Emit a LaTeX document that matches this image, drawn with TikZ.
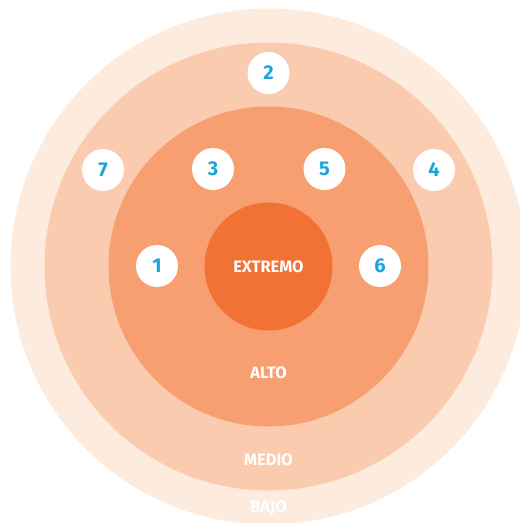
\documentclass[tikz,border=0pt]{standalone}
\usepackage{fontspec}
\setmainfont{Fira Sans}
\definecolor{bajo}{HTML}{FDEBDD}
\definecolor{medio}{HTML}{FBCBAF}
\definecolor{alto}{HTML}{F79F70}
\definecolor{extremo}{HTML}{F27135}
\definecolor{numc}{HTML}{1BA3DC}
\begin{document}
\begin{tikzpicture}[x=1pt,y=-1pt,
  ring/.style={circle,inner sep=0pt,draw=none},
  lbl/.style={text=white,font=\fontsize{16.5}{16.5}\selectfont\bfseries},
  num/.style={circle,fill=white,minimum size=42pt,inner sep=0pt,text=numc,font=\fontsize{20}{20}\selectfont\bfseries}]
\useasboundingbox (0,0) rectangle (520,523);
\clip (0,0) rectangle (520,523);
\node[ring,fill=bajo,minimum size=516pt] (bajo) at (268.5,266.5) {};
\node[ring,fill=medio,minimum size=448pt] (medio) at (268.5,266.5) {};
\node[ring,fill=alto,minimum size=320pt] (alto) at (268.5,266.5) {};
\node[ring,fill=extremo,minimum size=128pt] (extremo) at (268.5,266.5) {};
\node[lbl] (textremo) at (268.5,267) {EXTREMO};
\node[lbl] (talto) at (268.5,373) {ALTO};
\node[lbl] (tmedio) at (268.5,460) {MEDIO};
\node[lbl,text=white!96!bajo] (tbajo) at (268.5,508) {BAJO};
\node[num] (n2) at (268.5,73) {2};
\node[num] (n7) at (103,170) {7};
\node[num] (n3) at (213,169) {3};
\node[num] (n5) at (324.5,169) {5};
\node[num] (n4) at (434,170) {4};
\node[num] (n1) at (157,266) {1};
\node[num] (n6) at (380,266) {6};
\end{tikzpicture}
\end{document}
